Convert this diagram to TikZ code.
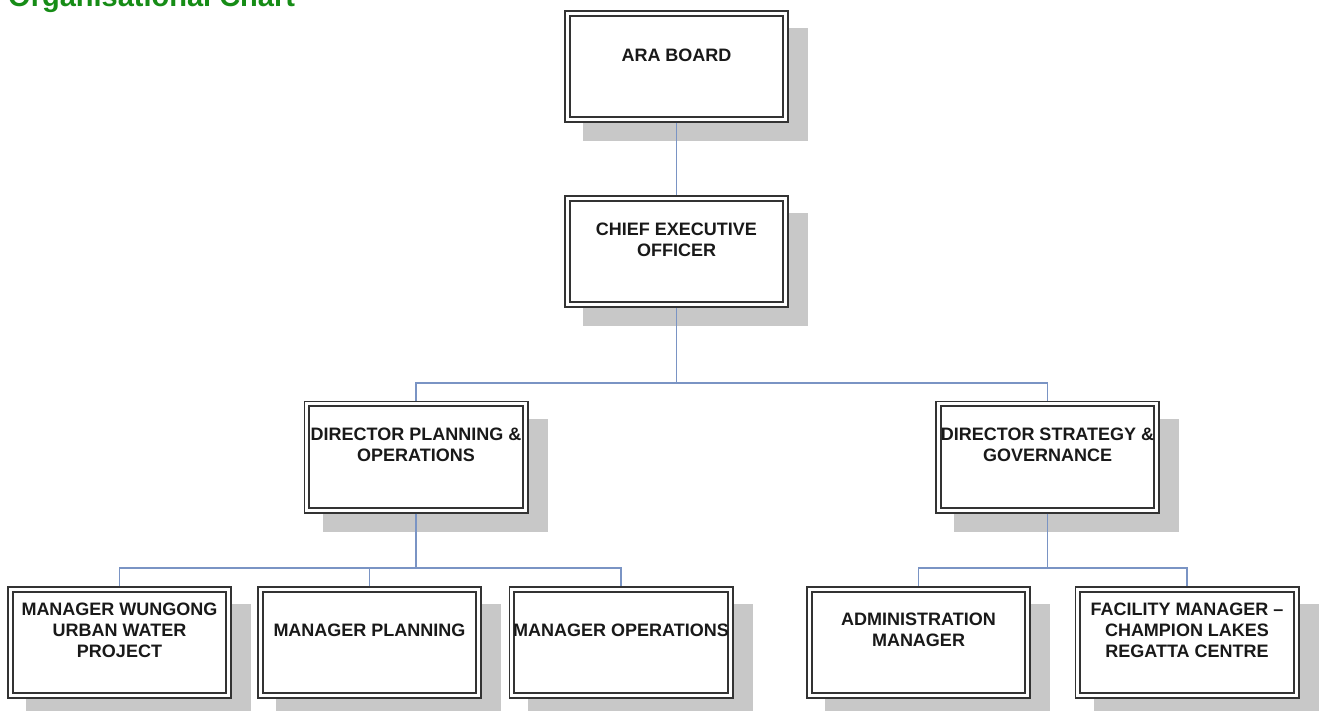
\documentclass[tikz,border=0pt]{standalone}
\usepackage{fontspec}
\setmainfont{Liberation Sans}
\usetikzlibrary{backgrounds}

\definecolor{linkblue}{RGB}{122,148,196}
\definecolor{shadowgray}{RGB}{200,200,200}
\definecolor{titlegreen}{RGB}{22,140,22}

\begin{document}
\begin{tikzpicture}[x=1pt, y=-1pt,
    post/.style={draw=black!80, line width=1.8pt, double=white, double distance=3pt,
        fill=white, minimum width=218.4pt, minimum height=106.4pt, outer sep=3.3pt, inner sep=0pt},
    posttext/.style={font=\bfseries\fontsize{18}{21}\selectfont, text=black!90, align=center, inner sep=0pt},
    link/.style={draw=linkblue, line width=1.5pt}]
            \useasboundingbox (0,0) rectangle (1320,711);
            \clip (0,0) rectangle (1320,711);

            % Title, cut by the page edge
            \node[font=\bfseries\fontsize{29}{34}\selectfont, text=titlegreen, anchor=base west, inner sep=0pt] (title) at (8,6.5) {Organisational Chart};

            % Boxes
            \node[post] (ara) at (676.5, 66.5) {};
            \node[post] (ceo) at (676.5, 251.5) {};
            \node[post] (dpo) at (416, 457) {};
            \node[post] (dsg) at (1047.5, 457) {};
            \node[post] (mwu) at (119.5, 642.5) {};
            \node[post] (mpl) at (369.5, 642.5) {};
            \node[post] (mop) at (621, 642.5) {};
            \node[post] (adm) at (918.5, 642.5) {};
            \node[post] (fac) at (1187, 642.5) {};

            % Box texts
            \node[posttext] (ara-t) at ([yshift=-45pt]ara.north) {ARA BOARD};
            \node[posttext] (ceo-t) at ([yshift=-45pt]ceo.north) {CHIEF EXECUTIVE\\OFFICER};
            \node[posttext] (dpo-t) at ([yshift=-44pt]dpo.north) {DIRECTOR PLANNING \&\\OPERATIONS};
            \node[posttext] (dsg-t) at ([yshift=-44pt]dsg.north) {DIRECTOR STRATEGY \&\\GOVERNANCE};
            \node[posttext] (mwu-t) at ([yshift=-44pt]mwu.north) {MANAGER WUNGONG\\URBAN WATER\\PROJECT};
            \node[posttext] (mpl-t) at ([yshift=-44pt]mpl.north) {MANAGER PLANNING};
            \node[posttext] (mop-t) at ([yshift=-44pt]mop.north) {MANAGER OPERATIONS};
            \node[posttext] (adm-t) at ([yshift=-44pt]adm.north) {ADMINISTRATION\\MANAGER};
            \node[posttext] (fac-t) at ([yshift=-44pt]fac.north) {FACILITY MANAGER --\\CHAMPION LAKES\\REGATTA CENTRE};

            % Shadows
            \begin{scope}[on background layer]
                \foreach \b in {ara,ceo,dpo,dsg,mwu,mpl,mop,adm,fac}
                    \fill[shadowgray] ([shift={(19pt,-18pt)}]\b.south west) rectangle ([shift={(19pt,-18pt)}]\b.north east);
            \end{scope}

            % Edges
            \coordinate (topbus) at (676.5, 383);
            \coordinate (leftbus) at (416, 568);
            \coordinate (rightbus) at (1047.5, 568);
            \draw[link] (ara) -- (ceo);
            \draw[link] (ceo) -- (topbus);
            \draw[link] (topbus) -| (dpo);
            \draw[link] (topbus) -| (dsg);
            \draw[link] (dpo) -- (leftbus);
            \draw[link] (leftbus) -| (mwu);
            \draw[link] (leftbus) -| (mpl);
            \draw[link] (leftbus) -| (mop);
            \draw[link] (dsg) -- (rightbus);
            \draw[link] (rightbus) -| (adm);
            \draw[link] (rightbus) -| (fac);
        \end{tikzpicture}
\end{document}
